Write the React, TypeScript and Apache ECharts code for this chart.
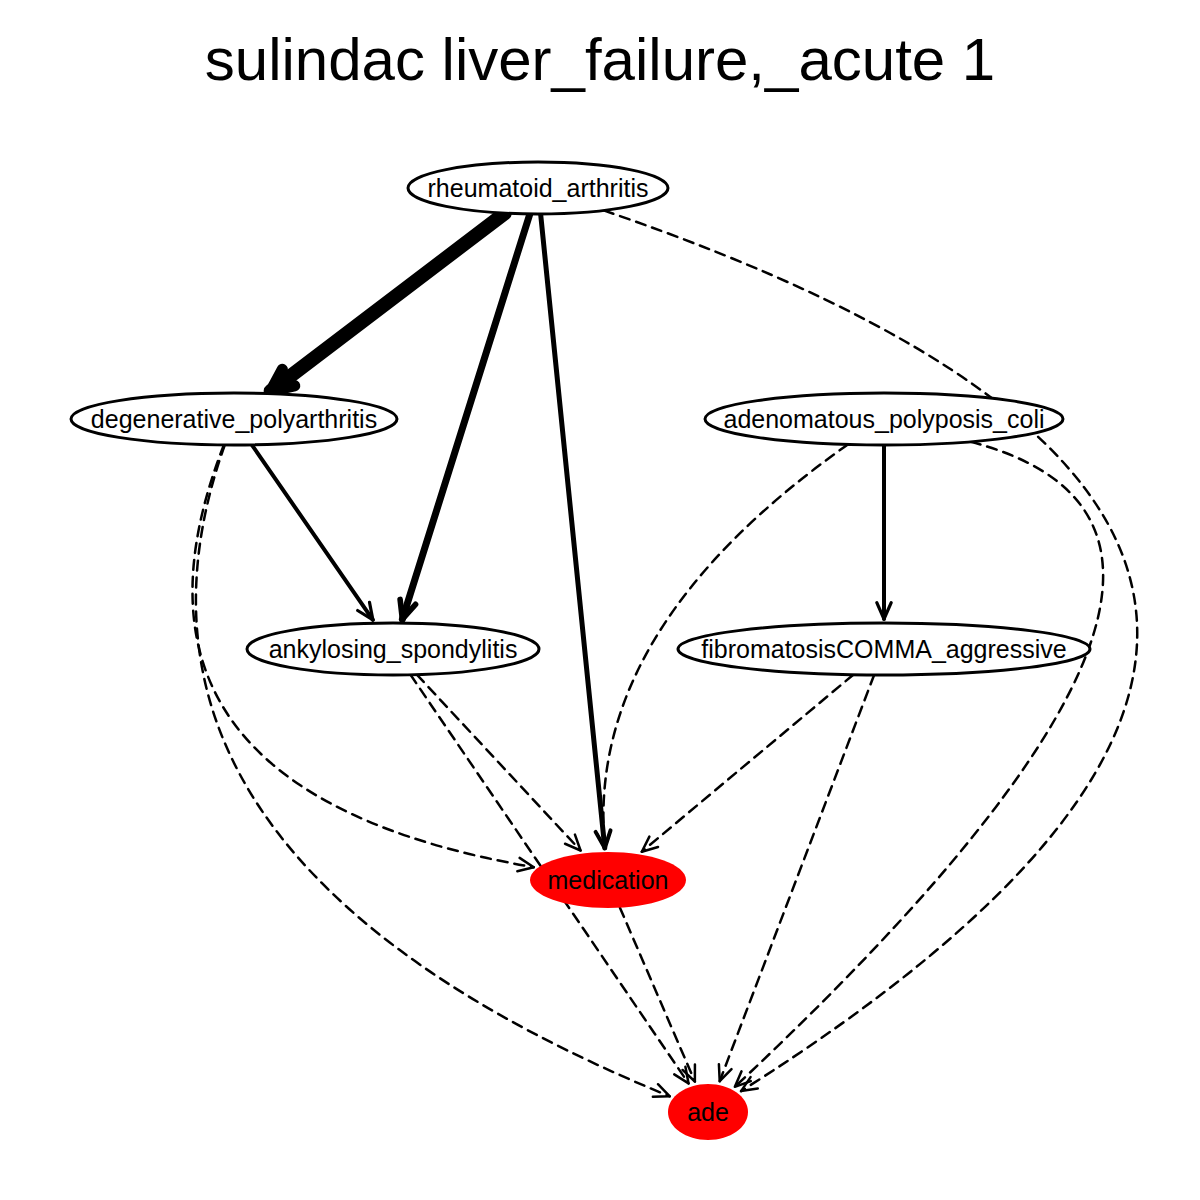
import React, { useEffect, useRef } from "react";
import * as echarts from "echarts";

const nodeNames = [
  "rheumatoid_arthritis",
  "degenerative_polyarthritis",
  "adenomatous_polyposis_coli",
  "ankylosing_spondylitis",
  "fibromatosisCOMMA_aggressive",
  "medication",
  "ade",
];
const nodeX = [538, 234, 884, 393, 884, 608, 708];
const nodeY = [188, 419, 419, 649, 649, 880, 1112];
const nodeW = [260, 326, 358, 292, 412, 156, 80];
const nodeH = [52, 52, 52, 52, 52, 56, 56];
const redNodes = ["medication", "ade"];

// [source, target, width, dashed, via point the curve passes through (or null)]
const edges: [number, number, number, boolean, [number, number] | null][] = [
  [0, 1, 14, false, null],
  [0, 3, 7, false, null],
  [0, 5, 5, false, null],
  [0, 6, 2.5, true, [1110, 600]],
  [1, 3, 4, false, null],
  [1, 5, 2.5, true, [255, 720]],
  [1, 6, 2.5, true, [275, 810]],
  [2, 4, 4, false, null],
  [2, 5, 2.5, true, [665, 640]],
  [2, 6, 2.5, true, [1060, 650]],
  [3, 5, 2.5, true, null],
  [3, 6, 2.5, true, null],
  [4, 5, 2.5, true, null],
  [4, 6, 2.5, true, null],
  [5, 6, 2.5, true, null],
];

function boundary(cx: number, cy: number, rx: number, ry: number, tx: number, ty: number, pad: number) {
  const dx = tx - cx, dy = ty - cy;
  const t = 1 / Math.sqrt((dx / rx) ** 2 + (dy / ry) ** 2);
  const len = Math.hypot(dx, dy);
  const extra = pad / len;
  return [cx + dx * (t + extra), cy + dy * (t + extra)];
}

const App: React.FC = () => {
  const chartRef = useRef<HTMLDivElement | null>(null);

  useEffect(() => {
    if (!chartRef.current) return;
    const chart = echarts.init(chartRef.current, null, { renderer: "svg" });

    chart.setOption({
      animation: false,
      backgroundColor: "#fff",
      title: {
        text: "sulindac liver_failure,_acute 1",
        left: "center",
        top: 24,
        textStyle: { fontFamily: "Liberation Sans", fontSize: 60, fontWeight: "normal", color: "#000" },
      },
      grid: { left: 0, right: 0, top: 0, bottom: 0 },
      xAxis: { type: "value", min: 0, max: 1200, show: false },
      yAxis: { type: "value", min: 0, max: 1200, inverse: true, show: false },
      series: [
        {
          type: "custom",
          coordinateSystem: "cartesian2d",
          data: edges.map((_, i) => [i]),
          renderItem: (params: any, api: any) => {
            const [s, t, w, dashed, via] = edges[params.dataIndex];
            const A = api.coord([nodeX[s], nodeY[s]]);
            const B = api.coord([nodeX[t], nodeY[t]]);
            let C: number[] | null = null;
            if (via) {
              const V = api.coord(via);
              C = [2 * V[0] - (A[0] + B[0]) / 2, 2 * V[1] - (A[1] + B[1]) / 2];
            }
            const toS = C || B, toE = C || A;
            const p1 = boundary(A[0], A[1], nodeW[s] / 2, nodeH[s] / 2, toS[0], toS[1], 0);
            const p2 = boundary(B[0], B[1], nodeW[t] / 2, nodeH[t] / 2, toE[0], toE[1], 4);
            const dirFrom = C || p1;
            const dx = p2[0] - dirFrom[0], dy = p2[1] - dirFrom[1];
            const L = Math.hypot(dx, dy);
            const ux = dx / L, uy = dy / L;
            const al = 14 + w * 0.6, aw = 6 + w * 0.3;
            const bx = p2[0] - ux * al, by = p2[1] - uy * al;
            const style = { stroke: "#000", lineWidth: w, fill: null, lineCap: "round", lineDash: dashed ? [10, 7] : null };
            const line = C
              ? { type: "bezierCurve", shape: { x1: p1[0], y1: p1[1], x2: p2[0], y2: p2[1], cpx1: C[0], cpy1: C[1] }, style }
              : { type: "line", shape: { x1: p1[0], y1: p1[1], x2: p2[0], y2: p2[1] }, style };
            return {
              type: "group",
              children: [
                line,
                {
                  type: "polyline",
                  shape: {
                    points: [
                      [bx - uy * aw, by + ux * aw],
                      p2,
                      [bx + uy * aw, by - ux * aw],
                    ],
                  },
                  style: { stroke: "#000", lineWidth: Math.max(2.5, w * 0.8), fill: null, lineCap: "round", lineJoin: "round" },
                },
              ],
            };
          },
          silent: true,
          z: 1,
        },
        {
          type: "custom",
          coordinateSystem: "cartesian2d",
          data: nodeNames.map((n, i) => [nodeX[i], nodeY[i], i]),
          renderItem: (params: any, api: any) => {
            const i = params.dataIndex;
            const p = api.coord([api.value(0), api.value(1)]);
            const red = redNodes.includes(nodeNames[i]);
            return {
              type: "group",
              children: [
                {
                  type: "ellipse",
                  shape: { cx: p[0], cy: p[1], rx: nodeW[i] / 2, ry: nodeH[i] / 2 },
                  style: { fill: red ? "#ff0000" : "#fff", stroke: red ? null : "#000", lineWidth: 3 },
                },
                {
                  type: "text",
                  x: p[0],
                  y: p[1],
                  style: {
                    text: nodeNames[i],
                    align: "center",
                    verticalAlign: "middle",
                    fontFamily: "Liberation Sans",
                    fontSize: 25,
                    fill: "#000",
                  },
                },
              ],
            };
          },
          silent: true,
          z: 2,
        },
      ],
    });
    return () => chart.dispose();
  }, []);

  return (
    <div
      ref={chartRef}
      style={{ position: "absolute", left: 0, top: 0, width: "1200px", height: "1200px" }}
    />
  );
};

export default App;
